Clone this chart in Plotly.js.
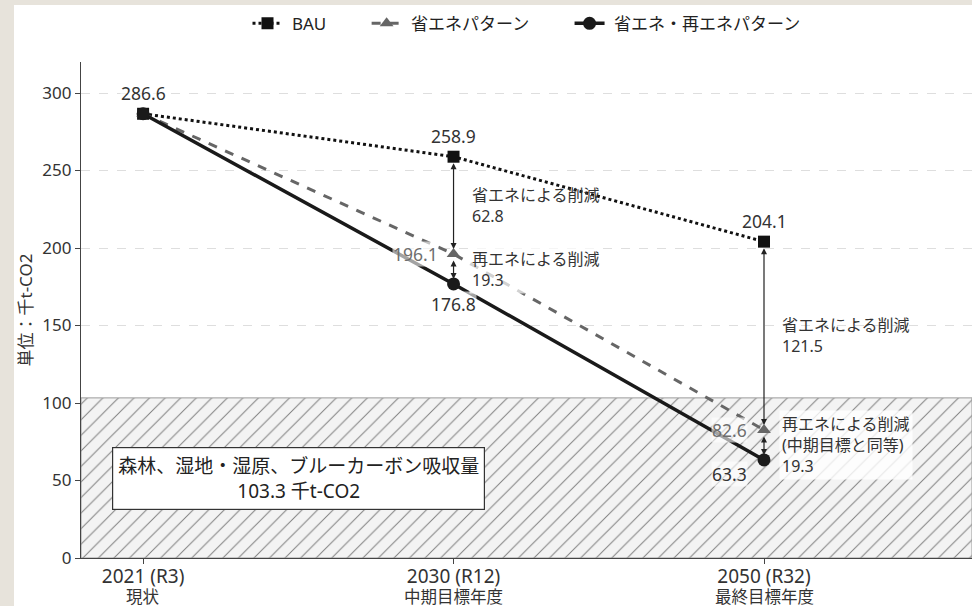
<!DOCTYPE html>
<html><head><meta charset="utf-8">
<script src="https://cdn.plot.ly/plotly-3.0.1.min.js"></script>
<style>
html,body{margin:0;padding:0;width:972px;height:606px;overflow:hidden;background:#e7e3db;}
#chart{position:absolute;left:14px;top:5px;width:958px;height:601px;background:#fff;}
</style></head>
<body><div id="chart"></div>
<script>
const categoryYears = ['2021 (R3)', '2030 (R12)', '2050 (R32)'];
const categoryLabels = ['現状', '中期目標年度', '最終目標年度'];
const bau = [286.6, 258.9, 204.1];
const shoene = [286.6, 196.1, 82.6];
const shoeneSaiene = [286.6, 176.8, 63.3];
const absorption = [103.3];
const seriesNames = ['BAU', '省エネパターン', '省エネ・再エネパターン'];

const xIdx = categoryYears.map((_, i) => i);
const XR = [-0.2, 2.67];
const FONT = '"Noto Sans", "Noto Sans CJK JP", sans-serif';
const LEAD = '\u00a0';
const TRAIL = '\u00a0\u00a0\u00a0\u00a0\u00a0\u00a0\u00a0\u00a0';

const traces = [
  {
    x: [XR[0], XR[1], XR[1], XR[0], XR[0]],
    y: [0, 0, absorption[0], absorption[0], 0],
    mode: 'lines', fill: 'toself', showlegend: false, hoverinfo: 'skip',
    line: {color: '#9a9a9a', width: 1},
    fillcolor: '#f3f3f3',
    fillpattern: {shape: '/', bgcolor: '#f3f3f3', fgcolor: '#808080', size: 11, solidity: 0.09}
  },
  {
    x: xIdx, y: bau, name: LEAD + seriesNames[0] + TRAIL, mode: 'lines+markers',
    line: {color: '#111', width: 3, dash: 'dot'},
    marker: {symbol: 'square', size: 12, color: '#111'}
  },
  {
    x: xIdx, y: shoene, name: LEAD + seriesNames[1] + TRAIL, mode: 'lines+markers',
    line: {color: '#666', width: 3, dash: 'dash'},
    marker: {symbol: 'triangle-up', size: 12, color: '#666'}
  },
  {
    x: xIdx, y: shoeneSaiene, name: LEAD + seriesNames[2], mode: 'lines+markers',
    line: {color: '#1a1a1a', width: 3.5},
    marker: {symbol: 'circle', size: 13, color: '#1a1a1a'}
  }
];

const ann = [];
const lab = (x, y, text, color, xs, ys) => ann.push({
  x, y, text, showarrow: false, xshift: xs, yshift: ys,
  font: {family: FONT, size: 17.5, color}, bgcolor: 'rgba(255,255,255,0.6)', borderpad: 0
});
lab(0, bau[0], String(bau[0]), '#333', 0, 21);
lab(1, bau[1], String(bau[1]), '#333', 0, 21);
lab(2, bau[2], String(bau[2]), '#333', 0, 21);
lab(1, shoene[1], String(shoene[1]), '#6e6e6e', -38, 0);
lab(2, shoene[2], String(shoene[2]), '#6e6e6e', -35, 0);
lab(1, shoeneSaiene[1], String(shoeneSaiene[1]), '#333', 0, -20);
lab(2, shoeneSaiene[2], String(shoeneSaiene[2]), '#333', -35, -14);

const arrow = (x, yTop, yBot) => ann.push({
  x, y: yBot, ax: x, ay: yTop, xref: 'x', yref: 'y', axref: 'x', ayref: 'y',
  text: '', showarrow: true, arrowside: 'end+start', arrowhead: 2, startarrowhead: 2,
  arrowsize: 1, startarrowsize: 1, arrowwidth: 1.2, arrowcolor: '#222', standoff: 5, startstandoff: 5
});
arrow(1, bau[1], shoene[1]);
arrow(1, shoene[1], shoeneSaiene[1]);
arrow(2, bau[2], shoene[2]);
arrow(2, shoene[2], shoeneSaiene[2]);

const d = (a, b) => (a - b).toFixed(1);
const note = (x, y, text, bg) => ann.push({
  x, y, text, showarrow: false, xanchor: 'left', align: 'left', xshift: 15,
  font: {family: FONT, size: 16, color: '#333'}, bgcolor: bg, borderpad: 2
});
note(1, (bau[1] + shoene[1]) / 2, '省エネによる削減<br>' + d(bau[1], shoene[1]), 'rgba(255,255,255,0)');
note(1, (shoene[1] + shoeneSaiene[1]) / 2, '再エネによる削減<br>' + d(shoene[1], shoeneSaiene[1]), 'rgba(255,255,255,0.7)');
note(2, (bau[2] + shoene[2]) / 2, '省エネによる削減<br>' + d(bau[2], shoene[2]), 'rgba(255,255,255,0)');
note(2, (shoene[2] + shoeneSaiene[2]) / 2, '再エネによる削減<br>(中期目標と同等)<br>' + d(shoene[2], shoeneSaiene[2]), 'rgba(255,255,255,0.8)');

ann.push({
  x: 0.5, y: 51.6, showarrow: false,
  text: '森林、湿地・湿原、ブルーカーボン吸収量<br>' + absorption[0] + ' 千t-CO2',
  font: {family: FONT, size: 19, color: '#222'},
  bgcolor: '#fff', bordercolor: '#333', borderwidth: 1.2, borderpad: 5
});

categoryLabels.forEach((t, i) => ann.push({
  x: i, y: 0, yref: 'paper', text: t, showarrow: false, yanchor: 'middle', yshift: -38,
  font: {family: FONT, size: 16.5, color: '#333'}
}));

const layout = {
  width: 958, height: 601,
  margin: {l: 67, r: 0, t: 57, b: 48},
  paper_bgcolor: '#fff', plot_bgcolor: '#fff',
  font: {family: FONT, size: 15, color: '#333'},
  showlegend: true,
  legend: {orientation: 'h', x: 0.5, xanchor: 'center', y: 1.077, yanchor: 'middle',
           font: {family: FONT, size: 17, color: '#222'}, itemwidth: 30, traceorder: 'normal'},
  xaxis: {
    range: XR, tickvals: xIdx, ticktext: categoryYears, showgrid: false, zeroline: false,
    showline: true, linecolor: '#444', linewidth: 1.2, ticks: 'outside', ticklen: 5, tickcolor: '#444',
    tickfont: {family: FONT, size: 19, color: '#333'}, ticklabelstandoff: -4
  },
  yaxis: {
    range: [0, 320], tickvals: [0, 50, 100, 150, 200, 250, 300], zeroline: false,
    showline: true, linecolor: '#444', linewidth: 1.2, ticks: 'outside', ticklen: 5, tickcolor: '#444',
    showgrid: true, gridcolor: '#dedede', griddash: 'dash', gridwidth: 1,
    tickfont: {family: FONT, size: 17, color: '#333'},
    title: {text: '単位：千t-CO2', font: {family: FONT, size: 17, color: '#333'}, standoff: 8}
  },
  annotations: ann
};
Plotly.newPlot('chart', traces, layout, {displayModeBar: false, staticPlot: true});
</script></body></html>
